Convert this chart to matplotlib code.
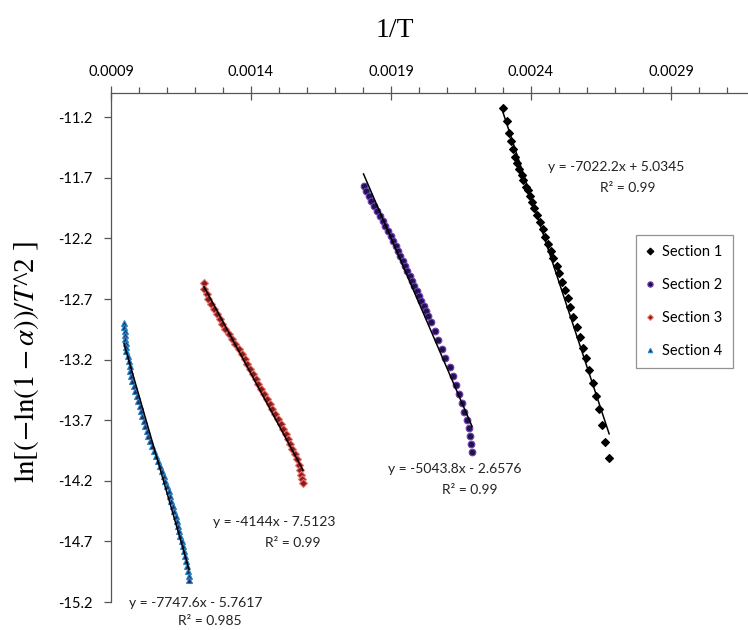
import numpy as np
import matplotlib.pyplot as plt
from matplotlib.ticker import MultipleLocator, FormatStrFormatter

plt.rcParams['font.family'] = ['Lato', 'DejaVu Sans']
plt.rcParams['axes.unicode_minus'] = False
plt.rcParams['mathtext.fontset'] = 'stix'

# ---- data (1/T, ln[-ln(1-a)/T^2]) ----
s1_x = [0.002300, 0.002314, 0.002321, 0.002329, 0.002336, 0.002343, 0.002350, 0.002357,
        0.002368, 0.002371, 0.002382, 0.002389, 0.002396, 0.002404, 0.002411, 0.002421,
        0.002432, 0.002443, 0.002450, 0.002461, 0.002471, 0.002479, 0.002493, 0.002500,
        0.002511, 0.002521, 0.002532, 0.002539, 0.002550, 0.002564, 0.002575, 0.002586,
        0.002596, 0.002607, 0.002621, 0.002632, 0.002643, 0.002654, 0.002664, 0.002679]
s1_y = [-11.126, -11.233, -11.332, -11.398, -11.464, -11.530, -11.579, -11.629,
        -11.678, -11.720, -11.777, -11.802, -11.852, -11.901, -11.950, -12.008,
        -12.066, -12.124, -12.190, -12.247, -12.305, -12.363, -12.429, -12.487,
        -12.561, -12.627, -12.693, -12.767, -12.849, -12.932, -13.014, -13.105,
        -13.188, -13.287, -13.394, -13.501, -13.608, -13.740, -13.880, -14.012]

s2_x = [0.0018018, 0.0018100, 0.0018200, 0.0018300, 0.0018400, 0.0018500, 0.0018600,
        0.0018700, 0.0018800, 0.0018900, 0.0019000, 0.0019089, 0.0019171, 0.0019254,
        0.0019339, 0.0019421, 0.0019500, 0.0019582, 0.0019664, 0.0019750, 0.0019832,
        0.0019914, 0.0019996, 0.0020079, 0.0020161, 0.0020243, 0.0020321,
        0.0020429, 0.0020571, 0.0020679, 0.0020821, 0.0020929, 0.0021107, 0.0021214,
        0.0021321, 0.0021429, 0.0021536, 0.0021607, 0.0021714, 0.0021786, 0.0021821,
        0.0021857, 0.0021893]
s2_y = [-11.769, -11.810, -11.852, -11.893, -11.934, -11.975, -12.017,
        -12.058, -12.099, -12.140, -12.181, -12.223, -12.264, -12.305,
        -12.346, -12.388, -12.429, -12.470, -12.511, -12.553, -12.594,
        -12.635, -12.676, -12.718, -12.759, -12.800, -12.841,
        -12.891, -12.965, -13.039, -13.113, -13.188, -13.262, -13.336,
        -13.410, -13.485, -13.559, -13.633, -13.699, -13.765, -13.831,
        -13.897, -13.963]

s3_x = [0.0012321, 0.0012336, 0.0012418, 0.0012482, 0.0012579, 0.0012679, 0.0012779,
        0.0012875, 0.0012975, 0.0013089, 0.0013207, 0.0013325, 0.0013439, 0.0013575,
        0.0013675, 0.0013771, 0.0013871, 0.0013968, 0.0014068, 0.0014168, 0.0014264,
        0.0014364, 0.0014464, 0.0014561, 0.0014661, 0.0014757, 0.0014857, 0.0014957,
        0.0015054, 0.0015154, 0.0015236, 0.0015314, 0.0015396, 0.0015475, 0.0015557,
        0.0015639, 0.0015714, 0.0015750, 0.0015786, 0.0015821, 0.0015857]
s3_y = [-12.569, -12.619, -12.660, -12.701, -12.742, -12.784, -12.825,
        -12.866, -12.907, -12.948, -12.990, -13.031, -13.072, -13.113,
        -13.155, -13.196, -13.237, -13.278, -13.320, -13.361, -13.402,
        -13.443, -13.485, -13.526, -13.567, -13.608, -13.650, -13.691,
        -13.732, -13.773, -13.814, -13.856, -13.897, -13.938, -13.979,
        -14.021, -14.070, -14.111, -14.153, -14.186, -14.219]

s4_x = [0.0009464, 0.0009475, 0.0009489, 0.0009500, 0.0009511, 0.0009521, 0.0009536,
        0.0009546, 0.0009600, 0.0009632, 0.0009668, 0.0009686, 0.0009718, 0.0009754,
        0.0009807, 0.0009861, 0.0009911, 0.0009964, 0.0010018, 0.0010068, 0.0010121,
        0.0010175, 0.0010229, 0.0010279, 0.0010332, 0.0010404, 0.0010454, 0.0010525,
        0.0010596, 0.0010664, 0.0010736, 0.0010807, 0.0010879, 0.0010946, 0.0011000,
        0.0011054, 0.0011104, 0.0011157, 0.0011211, 0.0011264, 0.0011314, 0.0011350,
        0.0011386, 0.0011436, 0.0011471, 0.0011525, 0.0011557, 0.0011611, 0.0011646,
        0.0011679, 0.0011714, 0.0011750, 0.0011768, 0.0011786]
s4_y = [-12.899, -12.932, -12.965, -12.998, -13.031, -13.064, -13.097,
        -13.130, -13.171, -13.212, -13.254, -13.295, -13.336, -13.377,
        -13.419, -13.460, -13.501, -13.542, -13.584, -13.625, -13.666,
        -13.707, -13.748, -13.790, -13.831, -13.872, -13.913, -13.955,
        -13.996, -14.037, -14.078, -14.120, -14.161, -14.202, -14.243,
        -14.285, -14.326, -14.367, -14.408, -14.450, -14.491, -14.532,
        -14.573, -14.614, -14.656, -14.697, -14.738, -14.779, -14.821,
        -14.862, -14.903, -14.944, -14.986, -15.019]

labels = ['Section 1', 'Section 2', 'Section 3', 'Section 4']
eqs = ['y = -7022.2x + 5.0345', 'y = -5043.8x - 2.6576',
       'y = -4144x - 7.5123', 'y = -7747.6x - 5.7617']
r2 = ['R² = 0.99', 'R² = 0.99', 'R² = 0.99', 'R² = 0.985']
xticks = [0.0009, 0.0014, 0.0019, 0.0024, 0.0029]
yticks = [-15.2, -14.7, -14.2, -13.7, -13.2, -12.7, -12.2, -11.7, -11.2]

fig = plt.figure(figsize=(7.48, 6.30), dpi=100)
ax = fig.add_axes([111/748, 1-602/630, 1-111/748, (602-93)/630])

series = [(s1_x, s1_y, 'D', 4.3, 'black', 'black'),
          (s2_x, s2_y, 'o', 4.8, '#1d1550', '#7a3db8'),
          (s3_x, s3_y, 'D', 3.6, '#8b1a1a', '#e8746f'),
          (s4_x, s4_y, '^', 4.0, '#1f2d6b', '#2e86c1')]

handles = []
for (xs, ys, mk, ms, fc, ec), lab in zip(series, labels):
    h, = ax.plot(xs, ys, ls='none', marker=mk, ms=ms, mfc=fc, mec=ec,
                 mew=0.8, label=lab, zorder=2)
    handles.append(h)
    # linear trendline over the series range
    k, b = np.polyfit(xs, ys, 1)
    xl = np.array([min(xs), max(xs)])
    ax.plot(xl, k*xl + b, color='black', lw=1.1, zorder=3)

# trendline labels (equation line, R² line)
eq_pos = [(0.0027036, -11.612), (0.0021286, -14.103), (0.0014821, -14.540), (0.0012036, -15.208)]
r2_pos = [(0.0027464, -11.786), (0.0021821, -14.276), (0.0015500, -14.713), (0.0012536, -15.357)]
for e, r, pe, pr in zip(eqs, r2, eq_pos, r2_pos):
    ax.text(pe[0], pe[1], e, ha='center', va='center', fontsize=10,
            color='#222222', clip_on=False)
    ax.text(pr[0], pr[1], r, ha='center', va='center', fontsize=10,
            color='#222222', clip_on=False)

ax.set_xlim(0.0009, 0.003175)
ax.set_ylim(-15.2, -11.0)
ax.xaxis.tick_top()
ax.set_xticks(xticks)
ax.xaxis.set_minor_locator(MultipleLocator(0.0001))
ax.xaxis.set_major_formatter(FormatStrFormatter('%.4f'))
ax.set_yticks(yticks)
ax.yaxis.set_major_formatter(FormatStrFormatter('%.1f'))

for s in ['right', 'bottom']:
    ax.spines[s].set_visible(False)
for s in ['left', 'top']:
    ax.spines[s].set_color('#555555')
    ax.spines[s].set_linewidth(0.9)

ax.tick_params(axis='x', which='major', direction='inout', length=10, width=0.9,
               color='#555555', labelsize=10.5, pad=5)
ax.tick_params(axis='x', which='minor', direction='out', length=4, width=0.9,
               color='#555555')
ax.tick_params(axis='y', which='major', direction='out', length=5, width=0.9,
               color='#555555', labelsize=10.5, pad=8)

fig.text(0.528, 0.952, '1/T', ha='center', va='center', fontsize=20,
         family='Liberation Serif')
fig.text(0.036, 0.425, r'$\mathrm{ln}[(-\mathrm{ln}(1-\alpha))/T$^2 ]', rotation=90,
         ha='center', va='center', fontsize=21, family='Liberation Serif')

leg = fig.legend(handles=handles, loc='upper left', bbox_to_anchor=(0.850, 0.627),
                 frameon=True, fancybox=False, fontsize=10.5, labelspacing=1.3,
                 handlelength=0.6, handletextpad=0.5, borderpad=0.7,
                 markerscale=0.8, borderaxespad=0)
leg.get_frame().set_edgecolor('#777777')
leg.get_frame().set_linewidth(0.9)

fig.savefig('out.png', dpi=100)
